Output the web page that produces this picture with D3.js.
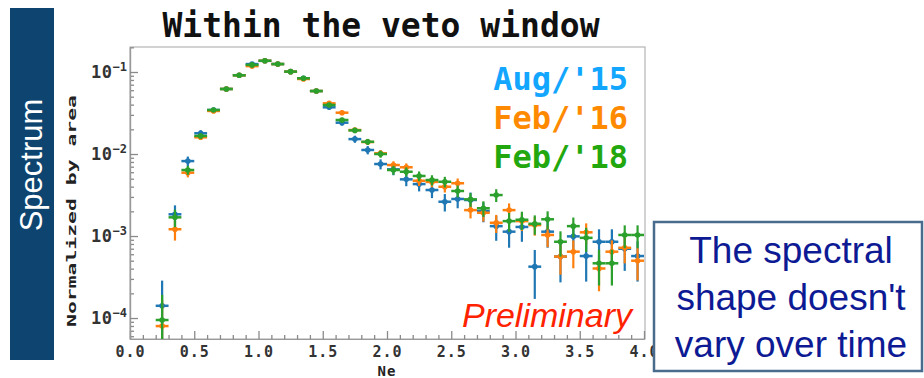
<!DOCTYPE html>
<html>
<head>
<meta charset="utf-8">
<script src="https://cdn.jsdelivr.net/npm/d3@7"></script>
<style>
  html, body { margin: 0; padding: 0; background: #ffffff; }
  svg { display: block; }
</style>
</head>
<body>
<svg id="chart" width="924" height="378"></svg>
<script>
// Bin centres of the Ne histogram (bin width 0.1)
const binCenters = [0.25, 0.35, 0.45, 0.55, 0.65, 0.75, 0.85, 0.95, 1.05, 1.15,
                    1.25, 1.35, 1.45, 1.55, 1.65, 1.75, 1.85, 1.95, 2.05, 2.15,
                    2.25, 2.35, 2.45, 2.55, 2.65, 2.75, 2.85, 2.95, 3.05, 3.15,
                    3.25, 3.35, 3.45, 3.55, 3.65, 3.75, 3.85, 3.95];
const binHalfWidth = 0.05;

// Area-normalised spectra and their uncertainties
const aug15 = [1.41e-4, 1.84e-3, 8.2e-3, 0.0179, 0.0344, 0.0621, 0.0912, 0.125, 0.137, 0.125,
               0.101, 0.0838, 0.0586, 0.0371, 0.0241, 0.0152, 0.0112, 0.00755, 0.0065, 0.00491,
               0.0043, 0.00364, 0.00262, 0.00283, 0.00275, 0.00202, 0.00132, 0.00113, 0.00129, 4.23e-4,
               0.00113, 5.62e-4, 9.9e-4, 5.7e-4, 8.51e-4, 8.51e-4, 7.0e-4, 5.7e-4];
const aug15Err = [1.45e-4, 5.25e-4, 1.11e-3, 1.64e-3, 2.27e-3, 3.05e-3, 3.7e-3, 4.33e-3, 4.53e-3, 4.33e-3,
                  3.89e-3, 3.55e-3, 2.96e-3, 2.36e-3, 1.9e-3, 1.51e-3, 1.3e-3, 1.06e-3, 9.9e-4, 8.6e-4,
                  8.0e-4, 7.4e-4, 6.3e-4, 6.5e-4, 6.4e-4, 5.5e-4, 4.45e-4, 4.1e-4, 4.4e-4, 2.52e-4,
                  4.1e-4, 2.9e-4, 3.85e-4, 2.92e-4, 3.57e-4, 3.57e-4, 3.24e-4, 2.92e-4];

const feb16 = [7.98e-5, 1.21e-3, 5.92e-3, 0.016, 0.0335, 0.0621, 0.0912, 0.118, 0.137, 0.125,
               0.101, 0.0822, 0.0586, 0.0415, 0.0319, 0.0196, 0.014, 0.0102, 0.00734, 0.00689,
               0.00472, 0.00457, 0.00399, 0.0044, 0.00207, 0.00192, 0.00145, 0.00207, 0.00152, 0.00136,
               0.00103, 5.62e-4, 6.44e-4, 0.00111, 4.02e-4, 6.44e-4, 7.18e-4, 5.0e-4];
const feb16Err = [8.5e-5, 3.3e-4, 7.3e-4, 1.2e-3, 1.74e-3, 2.36e-3, 2.87e-3, 3.26e-3, 3.51e-3, 3.35e-3,
                  3.01e-3, 2.72e-3, 2.3e-3, 1.93e-3, 1.69e-3, 1.33e-3, 1.12e-3, 9.6e-4, 8.1e-4, 7.9e-4,
                  6.5e-4, 6.4e-4, 6.0e-4, 6.3e-4, 4.3e-4, 4.2e-4, 3.6e-4, 4.3e-4, 3.7e-4, 3.5e-4,
                  3.0e-4, 2.25e-4, 2.4e-4, 3.16e-4, 1.9e-4, 2.4e-4, 2.54e-4, 2.12e-4];

const feb18 = [9.46e-5, 1.69e-3, 6.38e-3, 0.0166, 0.0344, 0.0621, 0.0912, 0.122, 0.137, 0.125,
               0.101, 0.0838, 0.0586, 0.0396, 0.026, 0.0194, 0.0141, 0.01, 0.00638, 0.00608,
               0.0054, 0.00482, 0.00459, 0.00354, 0.0028, 0.00218, 0.00316, 0.00152, 0.00158, 0.00141,
               0.0016, 8.51e-4, 0.00132, 9.5e-4, 4.65e-4, 4.65e-4, 0.00103, 0.00103];
const feb18Err = [9.7e-5, 4.1e-4, 8.0e-4, 1.29e-3, 1.85e-3, 2.49e-3, 3.02e-3, 3.49e-3, 3.7e-3, 3.54e-3,
                  3.18e-3, 2.89e-3, 2.42e-3, 1.99e-3, 1.61e-3, 1.39e-3, 1.19e-3, 1.0e-3, 8.0e-4, 7.8e-4,
                  7.3e-4, 6.9e-4, 6.8e-4, 5.9e-4, 5.3e-4, 4.7e-4, 5.6e-4, 3.9e-4, 4.0e-4, 3.75e-4,
                  4.0e-4, 2.9e-4, 3.6e-4, 3.1e-4, 2.16e-4, 2.16e-4, 3.2e-4, 3.2e-4];

const seriesNames = ["Aug/'15", "Feb/'16", "Feb/'18"];
const markerColors = ["#1f77b4", "#ff7f0e", "#2ca02c"];
const labelColors = ["#12a6ff", "#ff8a00", "#22a80e"];

const xTickValues = [0, 0.5, 1, 1.5, 2, 2.5, 3, 3.5, 4];
const yDecades = [-1, -2, -3, -4];

const titleText = "Within the veto window";
const xLabel = "Ne";
const yLabel = "Normalized by area";
const sideLabel = "Spectrum";
const stampText = "Preliminary";
const noteLines = ["The spectral", "shape doesn't", "vary over time"];

const svg = d3.select("#chart");
const mono = "'DejaVu Sans Mono', 'Liberation Mono', monospace";
const sans = "'Liberation Sans', Arial, Helvetica, sans-serif";

// Plot frame
const frame = { left: 130, right: 644, top: 47, bottom: 339 };
const x = d3.scaleLinear().domain([0, 4]).range([frame.left, frame.right]);
const y = d3.scaleLog().domain([5.55e-5, 0.2018]).range([frame.bottom, frame.top]).clamp(true);

// Side banner
svg.append("rect").attr("x", 10).attr("y", 8).attr("width", 44).attr("height", 352)
  .attr("fill", "#0e4570");
svg.append("text")
  .attr("transform", "translate(42,165) rotate(-90)")
  .attr("text-anchor", "middle")
  .attr("font-family", sans).attr("font-size", 31).attr("fill", "#ffffff")
  .text(sideLabel);

// Title
svg.append("text")
  .attr("x", 381).attr("y", 37)
  .attr("text-anchor", "middle")
  .attr("font-family", mono).attr("font-weight", "bold").attr("font-size", 33)
  .attr("fill", "#111111")
  .text(titleText);

// Frame box
svg.append("rect")
  .attr("x", frame.left).attr("y", frame.top)
  .attr("width", frame.right - frame.left + 1).attr("height", frame.bottom - frame.top)
  .attr("fill", "none").attr("stroke", "#b4b4b4").attr("stroke-width", 1.2);

// X axis: minor and major ticks pointing inward
const xMinor = d3.range(0, 4.0001, 0.1).filter(v => Math.abs(v * 2 - Math.round(v * 2)) > 1e-6);
const gxMinor = svg.append("g").attr("transform", `translate(0,${frame.bottom})`)
  .call(d3.axisBottom(x).tickValues(xMinor).tickSizeInner(-4).tickSizeOuter(0).tickFormat(""));
const gx = svg.append("g").attr("transform", `translate(0,${frame.bottom})`)
  .call(d3.axisBottom(x).tickValues(xTickValues).tickSizeInner(-8).tickSizeOuter(0)
    .tickPadding(4).tickFormat(d3.format(".1f")));
[gxMinor, gx].forEach(g => {
  g.select(".domain").attr("stroke", "#999999").attr("stroke-width", 1.2);
  g.selectAll(".tick line").attr("stroke", "#8a8a8a").attr("stroke-width", 1.3);
});
gx.selectAll(".tick text")
  .attr("font-family", mono).attr("font-weight", "bold").attr("font-size", 15)
  .attr("letter-spacing", "1px").attr("fill", "#333333")
  .attr("dy", "0.95em");

// Y axis: log scale, minor ticks at 2..9 per decade
const yMinor = [];
[-5, -4, -3, -2, -1].forEach(d => {
  for (let k = 2; k <= 9; k++) {
    const v = k * Math.pow(10, d);
    if (v >= y.domain()[0] && v <= y.domain()[1]) yMinor.push(v);
  }
});
const gyMinor = svg.append("g").attr("transform", `translate(${frame.left},0)`)
  .call(d3.axisLeft(y).tickValues(yMinor).tickSizeInner(-4).tickSizeOuter(0).tickFormat(""));
const gy = svg.append("g").attr("transform", `translate(${frame.left},0)`)
  .call(d3.axisLeft(y).tickValues(yDecades.map(d => Math.pow(10, d)))
    .tickSizeInner(-8).tickSizeOuter(0).tickFormat(""));
[gyMinor, gy].forEach(g => {
  g.select(".domain").attr("stroke", "#999999").attr("stroke-width", 1.2);
  g.selectAll(".tick line").attr("stroke", "#8a8a8a").attr("stroke-width", 1.3);
});

// Decade labels written as 10 with a superscript exponent
yDecades.forEach(d => {
  const t = svg.append("text")
    .attr("x", 127).attr("y", y(Math.pow(10, d)) + 6)
    .attr("text-anchor", "end")
    .attr("font-family", mono).attr("font-weight", "bold").attr("fill", "#333333");
  t.append("tspan").attr("font-size", 17).attr("letter-spacing", "0.5px").text("10");
  t.append("tspan").attr("font-size", 12).attr("dy", -7).text("\u2212" + Math.abs(d));
});

// Axis titles
svg.append("text")
  .attr("x", 387).attr("y", 376)
  .attr("text-anchor", "middle")
  .attr("font-family", mono).attr("font-weight", "bold").attr("font-size", 14)
  .attr("letter-spacing", "1px").attr("fill", "#222222")
  .text(xLabel);
svg.append("text")
  .attr("transform", "translate(76,211) rotate(-90)")
  .attr("text-anchor", "middle")
  .attr("font-family", mono).attr("font-weight", "bold").attr("font-size", 13)
  .attr("textLength", 232).attr("lengthAdjust", "spacingAndGlyphs")
  .attr("fill", "#222222")
  .text(yLabel);

// Data points with bin-width and statistical error bars
const series = [
  { values: aug15, errors: aug15Err },
  { values: feb16, errors: feb16Err },
  { values: feb18, errors: feb18Err }
];
series.forEach((s, si) => {
  const g = svg.append("g").attr("stroke", markerColors[si]).attr("fill", markerColors[si]);
  const pts = binCenters.map((c, i) => ({ c, v: s.values[i], e: s.errors[i] }));
  const sel = g.selectAll("g.pt").data(pts).join("g").attr("class", "pt");
  sel.append("line")
    .attr("x1", d => x(d.c - binHalfWidth)).attr("x2", d => x(d.c + binHalfWidth))
    .attr("y1", d => y(d.v)).attr("y2", d => y(d.v))
    .attr("stroke-width", 2.5);
  sel.append("line")
    .attr("x1", d => x(d.c)).attr("x2", d => x(d.c))
    .attr("y1", d => (d.v - d.e) > 0 ? y(d.v - d.e) : frame.bottom)
    .attr("y2", d => y(d.v + d.e))
    .attr("stroke-width", 2.2);
  sel.append("circle")
    .attr("cx", d => x(d.c)).attr("cy", d => y(d.v)).attr("r", 2.8)
    .attr("stroke", "none");
});

// Legend
seriesNames.forEach((name, i) => {
  svg.append("text")
    .attr("x", 628).attr("y", 90 + i * 39)
    .attr("text-anchor", "end")
    .attr("font-family", mono).attr("font-weight", "bold").attr("font-size", 32)
    .attr("fill", labelColors[i])
    .text(name);
});

// Preliminary stamp
svg.append("text")
  .attr("x", 632).attr("y", 327)
  .attr("text-anchor", "end")
  .attr("font-family", sans).attr("font-style", "italic").attr("font-size", 34)
  .attr("fill", "#ff2200")
  .text(stampText);

// Note box
svg.append("rect")
  .attr("x", 654).attr("y", 222).attr("width", 268).attr("height", 149)
  .attr("fill", "#ffffff").attr("stroke", "#4a6c8c").attr("stroke-width", 2.5);
noteLines.forEach((line, i) => {
  svg.append("text")
    .attr("x", 791).attr("y", 263 + i * 47)
    .attr("text-anchor", "middle")
    .attr("font-family", sans).attr("font-size", 37)
    .attr("fill", "#0d1a94")
    .text(line);
});
</script>
</body>
</html>
